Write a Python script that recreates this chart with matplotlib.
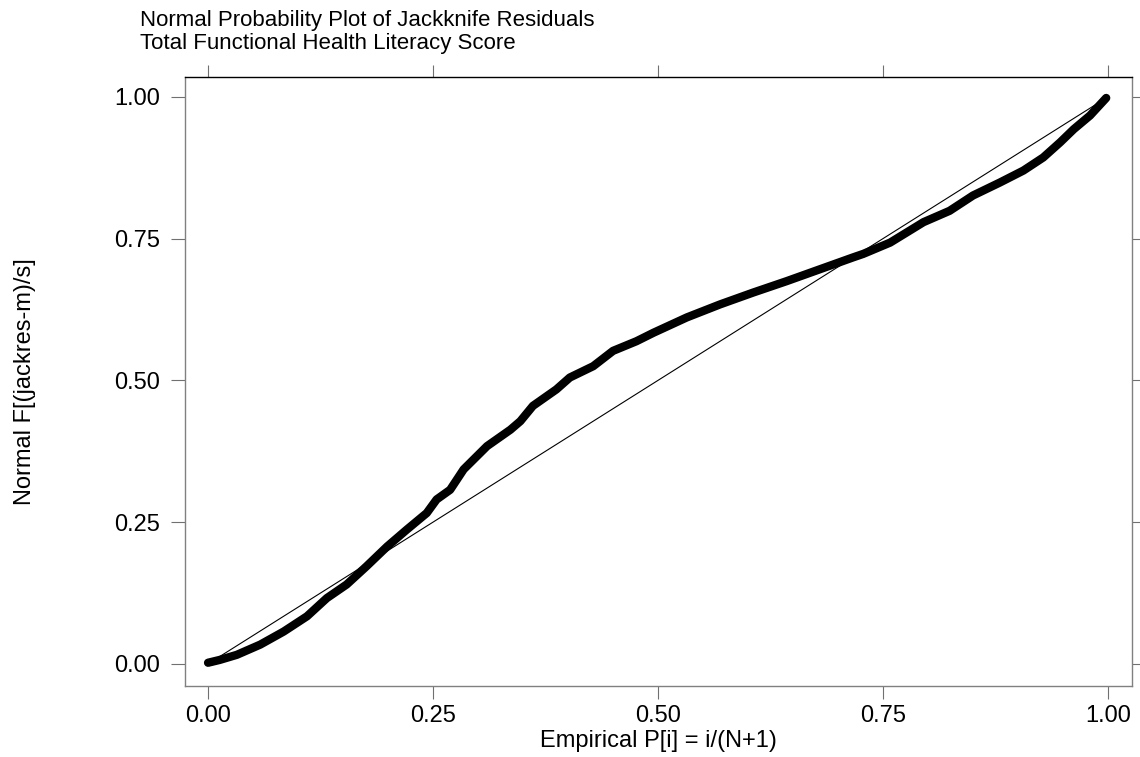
import numpy as np
import matplotlib.pyplot as plt

plt.rcParams["font.family"] = ["Liberation Sans", "DejaVu Sans"]

# empirical probability i/(N+1) and fitted normal F
emp_p = [0.000, 0.013, 0.032, 0.058, 0.084, 0.110, 0.132, 0.154, 0.176, 0.199,
         0.221, 0.243, 0.254, 0.269, 0.284, 0.310, 0.336, 0.347, 0.361, 0.387,
         0.402, 0.428, 0.450, 0.476, 0.495, 0.532, 0.569, 0.606, 0.643, 0.680,
         0.717, 0.728, 0.758, 0.795, 0.824, 0.850, 0.880, 0.906, 0.928, 0.947,
         0.962, 0.980, 0.998]
norm_f = [0.002, 0.007, 0.016, 0.034, 0.057, 0.084, 0.116, 0.140, 0.172, 0.207,
          0.237, 0.266, 0.290, 0.307, 0.343, 0.384, 0.413, 0.428, 0.455, 0.484,
          0.505, 0.525, 0.552, 0.569, 0.584, 0.611, 0.634, 0.655, 0.675, 0.696,
          0.717, 0.723, 0.743, 0.779, 0.799, 0.826, 0.849, 0.870, 0.893, 0.920,
          0.943, 0.967, 0.998]
ticks = [0.0, 0.25, 0.5, 0.75, 1.0]
tick_labels = ["0.00", "0.25", "0.50", "0.75", "1.00"]

fig = plt.figure(figsize=(11.4, 7.57), dpi=100)
ax = fig.add_axes([0.1623, 0.0938, 0.8307, 0.8045])

ax.plot([0, 1], [0, 1], color="black", lw=0.8, zorder=2)
ax.plot(emp_p, norm_f, color="black", lw=6, solid_capstyle="round",
        solid_joinstyle="round", zorder=3)

ax.set_xlim(-0.0256, 1.0267)
ax.set_ylim(-0.039, 1.035)
ax.set_xticks(ticks)
ax.set_xticklabels(tick_labels)
ax.set_yticks(ticks)
ax.set_yticklabels(tick_labels)

ax.tick_params(axis="both", labelsize=17, labelcolor="black", width=0.8)
ax.tick_params(axis="x", direction="out", length=9, pad=5, top=True, labeltop=False,
               color="#707070")
ax.tick_params(axis="y", direction="out", length=10, pad=8, right=True, labelright=False,
               color="#707070")

for side in ["left", "bottom", "right"]:
    ax.spines[side].set_color("#808080")
ax.spines["top"].set_color("black")
for s in ax.spines.values():
    s.set_linewidth(1.0)

ax.set_xlabel("Empirical P[i] = i/(N+1)", fontsize=17, labelpad=2)
ax.set_ylabel("Normal F[(jackres-m)/s]", fontsize=17, labelpad=56)

fig.text(140 / 1140, 1 - 10 / 757,
         "Normal Probability Plot of Jackknife Residuals\nTotal Functional Health Literacy Score",
         ha="left", va="top", fontsize=16, linespacing=1.1)

fig.savefig("out.png", dpi=100)
